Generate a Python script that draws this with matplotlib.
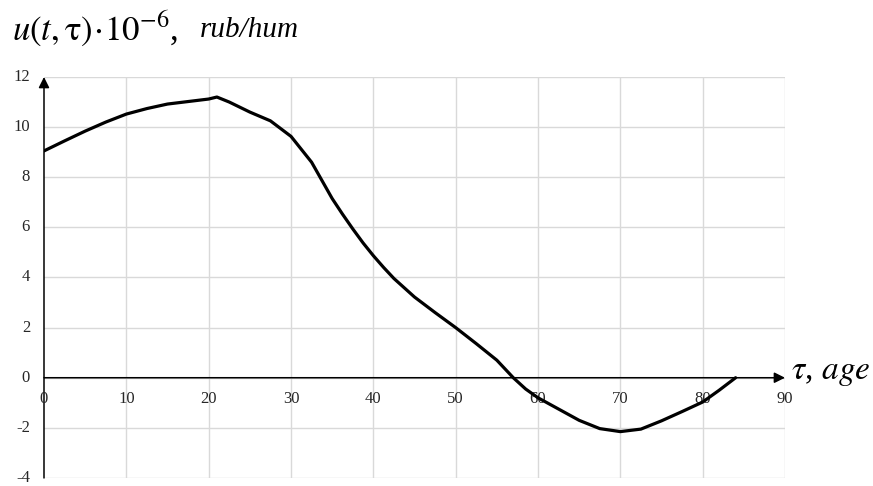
import matplotlib
matplotlib.use('Agg')
import matplotlib.pyplot as plt

# curve
age = [0, 2.5, 5, 7.5, 10, 12.5, 15, 17.5, 20, 21, 22.5, 25, 27.5, 30, 32.5,
       35, 36.25, 37.5, 38.75, 40, 41.25, 42.5, 45, 47.5, 50, 52.5, 55, 57,
       58.5, 60, 62.5, 65, 67.5, 70, 72.5, 75, 77.5, 80, 82, 84]
u = [9.05, 9.45, 9.84, 10.2, 10.52, 10.74, 10.92, 11.02, 11.12, 11.2, 11.0,
     10.6, 10.25, 9.63, 8.6, 7.15, 6.53, 5.94, 5.38, 4.87, 4.4, 3.96, 3.22,
     2.6, 2.0, 1.36, 0.7, 0.0, -0.45, -0.8, -1.25, -1.7, -2.03, -2.15, -2.05,
     -1.72, -1.35, -0.97, -0.5, 0]

x_ticks = [0, 10, 20, 30, 40, 50, 60, 70, 80, 90]
y_ticks = [-4, -2, 0, 2, 4, 6, 8, 10, 12]

plt.rcParams['font.family'] = 'Liberation Serif'
plt.rcParams['mathtext.fontset'] = 'stix'

fig = plt.figure(figsize=(8.73, 4.86), dpi=100)
ax = fig.add_axes([0.0504, 0.0165, 0.8488, 0.8251])
ax.set_xlim(0, 90)
ax.set_ylim(-4, 12)

for s in ax.spines.values():
    s.set_visible(False)
ax.set_xticks([])
ax.set_yticks([])

# grid
for xv in x_ticks[1:]:
    ax.plot([xv, xv], [-4, 12], color='#d9d9d9', lw=1, zorder=1)
for yv in y_ticks:
    ax.plot([0, 90], [yv, yv], color='#d9d9d9', lw=1, zorder=1)

# axes with arrows
ax.annotate('', xy=(90, 0), xytext=(0, 0),
            arrowprops=dict(arrowstyle='-|>', color='black', lw=1.1,
                            mutation_scale=16, shrinkA=0, shrinkB=0), zorder=3)
ax.annotate('', xy=(0, 12), xytext=(0, -4),
            arrowprops=dict(arrowstyle='-|>', color='black', lw=1.1,
                            mutation_scale=16, shrinkA=0, shrinkB=0), zorder=3)

# tick labels
for xv in x_ticks:
    ax.text(xv, -0.85, str(xv), ha='center', va='center', fontsize=12,
            color='#262626')
for yv in y_ticks:
    ax.text(-1.7, yv, str(yv), ha='right', va='center', fontsize=12,
            color='#262626')

ax.plot(age, u, color='black', lw=2.3, zorder=4, solid_capstyle='round',
        solid_joinstyle='round')

# labels
fig.text(12 / 873, 1 - 40 / 486, r'$u\left(t,\mathrm{\tau}\right)\!\cdot\!10^{-6}$,',
         fontsize=25, ha='left', va='baseline')
fig.text(200 / 873, 1 - 37 / 486, 'rub/hum', fontsize=21, style='italic',
         ha='left', va='baseline')
fig.text(791 / 873, 1 - 379 / 486, r'$\tau$, $\mathit{age}$', fontsize=24,
         ha='left', va='baseline')

fig.savefig('out.png', dpi=100)
